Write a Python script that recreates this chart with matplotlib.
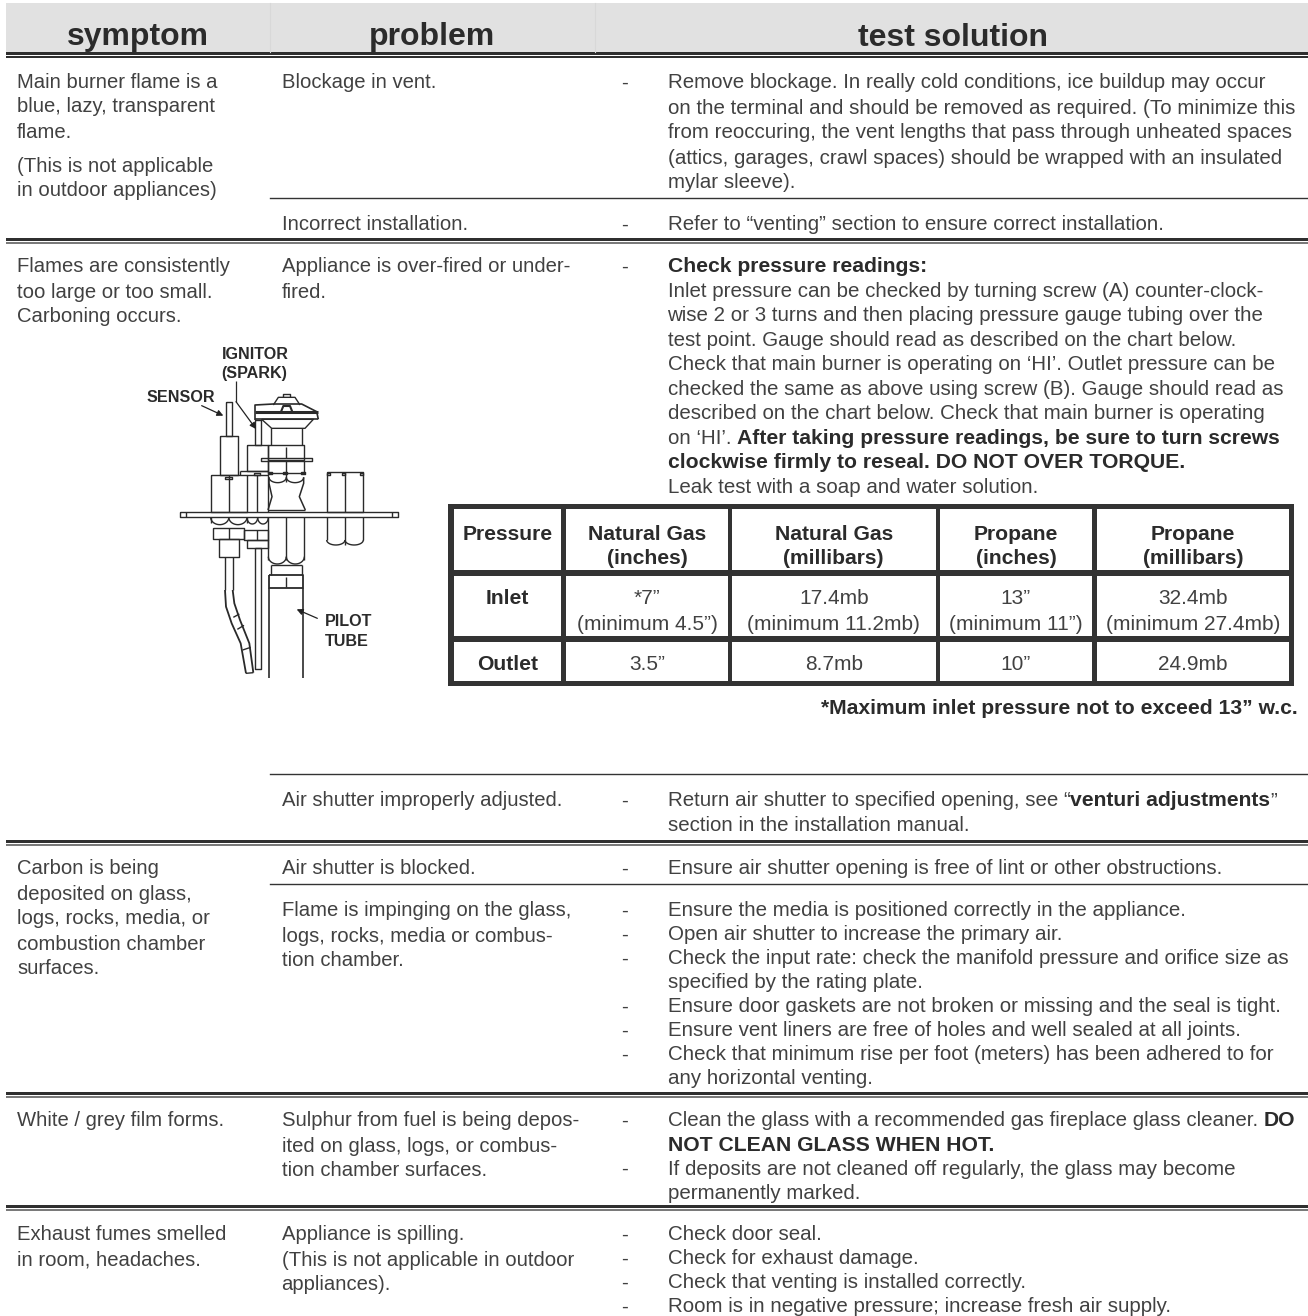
import matplotlib
matplotlib.use("Agg")
import matplotlib.pyplot as plt
import numpy as np
from matplotlib.patches import Rectangle

plt.rcParams['font.family'] = ['Liberation Sans', 'DejaVu Sans']

W, H = 1308, 1316
TXT = "#414141"
DARK = "#2b2b2b"
FS = 14.6
FS_SOL = 14.75
FS_BOLD = 15.2
FS_CELL = 15

headers = ["symptom", "problem", "test solution"]

symptoms = [
    ["Main burner flame is a", "blue, lazy, transparent", "flame."],
    ["(This is not applicable", "in outdoor appliances)"],
    ["Flames are consistently", "too large or too small.", "Carboning occurs."],
    ["Carbon is being", "deposited on glass,", "logs, rocks, media, or", "combustion chamber", "surfaces."],
    ["White / grey film forms."],
    ["Exhaust fumes smelled", "in room, headaches."],
]

problems = [
    ["Blockage in vent."],
    ["Incorrect installation."],
    ["Appliance is over-fired or under-", "fired."],
    ["Air shutter improperly adjusted."],
    ["Air shutter is blocked."],
    ["Flame is impinging on the glass,", "logs, rocks, media or combus-", "tion chamber."],
    ["Sulphur from fuel is being depos-", "ited on glass, logs, or combus-", "tion chamber surfaces."],
    ["Appliance is spilling.", "(This is not applicable in outdoor", "appliances)."],
]

# ** marks a bold run
sol_blockage = [
    "Remove blockage. In really cold conditions, ice buildup may occur",
    "on the terminal and should be removed as required. (To minimize this",
    "from reoccuring, the vent lengths that pass through unheated spaces",
    "(attics, garages, crawl spaces) should be wrapped with an insulated",
    "mylar sleeve).",
]
sol_install = ["Refer to “venting” section to ensure correct installation."]
sol_pressure = [
    "**Check pressure readings:",
    "Inlet pressure can be checked by turning screw (A) counter-clock-",
    "wise 2 or 3 turns and then placing pressure gauge tubing over the",
    "test point. Gauge should read as described on the chart below.",
    "Check that main burner is operating on ‘HI’. Outlet pressure can be",
    "checked the same as above using screw (B). Gauge should read as",
    "described on the chart below. Check that main burner is operating",
    "on ‘HI’. **After taking pressure readings, be sure to turn screws",
    "**clockwise firmly to reseal. DO NOT OVER TORQUE.",
    "Leak test with a soap and water solution.",
]
sol_shutter = [
    "Return air shutter to specified opening, see “**venturi adjustments**”",
    "section in the installation manual.",
]
sol_blocked = ["Ensure air shutter opening is free of lint or other obstructions."]
sol_flame = [
    "- Ensure the media is positioned correctly in the appliance.",
    "- Open air shutter to increase the primary air.",
    "- Check the input rate: check the manifold pressure and orifice size as",
    "specified by the rating plate.",
    "- Ensure door gaskets are not broken or missing and the seal is tight.",
    "- Ensure vent liners are free of holes and well sealed at all joints.",
    "- Check that minimum rise per foot (meters) has been adhered to for",
    "any horizontal venting.",
]
sol_film = [
    "- Clean the glass with a recommended gas fireplace glass cleaner. **DO",
    "**NOT CLEAN GLASS WHEN HOT.",
    "- If deposits are not cleaned off regularly, the glass may become",
    "permanently marked.",
]
sol_spill = [
    "- Check door seal.",
    "- Check for exhaust damage.",
    "- Check that venting is installed correctly.",
    "- Room is in negative pressure; increase fresh air supply.",
]

pressure_cols = [["Pressure"], ["Natural Gas", "(inches)"], ["Natural Gas", "(millibars)"],
                 ["Propane", "(inches)"], ["Propane", "(millibars)"]]
inlet_vals = [["*7”", "(minimum 4.5”)"], ["17.4mb", "(minimum 11.2mb)"],
              ["13”", "(minimum 11”)"], ["32.4mb", "(minimum 27.4mb)"]]
outlet_vals = ["3.5”", "8.7mb", "10”", "24.9mb"]
table_note = "*Maximum inlet pressure not to exceed 13” w.c."

fig = plt.figure(figsize=(W / 100, H / 100), dpi=100)
ax = fig.add_axes([0, 0, 1, 1])
ax.set_xlim(0, W)
ax.set_ylim(H, 0)
ax.axis("off")
rend = fig.canvas.get_renderer()

COL1, COL2, DASH, COL3 = 17, 281.5, 621, 667.5
PITCH = 25


def put_lines(x, y, lines, pitch=PITCH):
    for i, line in enumerate(lines):
        ax.text(x, y + i * pitch, line, fontsize=FS, color=TXT, va="center_baseline")


def rich_line(x, y, line):
    # split on ** and toggle the weight, each run goes after the one before
    bold = False
    for run in line.split("**"):
        if run:
            t = ax.text(x, y, run.rstrip(), fontsize=FS_BOLD if bold else FS_SOL,
                        color=DARK if bold else TXT,
                        weight="bold" if bold else "normal", va="center_baseline")
            x = t.get_window_extent(rend).x1
            if run.endswith(" "):
                x += 5.7
        bold = not bold


def put_solution(y, lines, pitch=24.2, dash=True):
    ypos = y
    for line in lines:
        if line.startswith("- "):
            line = line[2:]
            ax.text(DASH, ypos, "-", fontsize=FS, color=TXT, va="center_baseline")
        rich_line(COL3, ypos, line)
        ypos += pitch
    if dash:
        ax.text(DASH, y, "-", fontsize=FS, color=TXT, va="center_baseline")


def double_rule(y, thin_color="#7a7a7a"):
    ax.add_patch(Rectangle((6, y), W - 6, 3.2, color="#2f2f2f", lw=0))
    ax.add_patch(Rectangle((6, y + 4.4), W - 6, 1.6, color=thin_color, lw=0))


# header band
ax.add_patch(Rectangle((6, 3), W - 6, 49, color="#e1e1e1", lw=0))
for xd in [270, 595]:
    ax.plot([xd, xd], [3, 52], color="#d8d8d8", lw=0.8)
for name, xc in zip(headers, [138, 432, 953]):
    ax.text(xc, 34, name, fontsize=23, weight="bold", color=DARK, ha="center", va="center_baseline")
double_rule(52, thin_color="#2f2f2f")

# thin rules
for y0 in [198, 774, 884]:
    ax.plot([270, W], [y0, y0], color="#333333", lw=1.0)
for y0 in [237.5, 839.5, 1092, 1205]:
    double_rule(y0)

# symptom column
put_lines(COL1, 80, symptoms[0])
put_lines(COL1, 164, symptoms[1])
put_lines(COL1, 265, symptoms[2])
put_lines(COL1, 867, symptoms[3])
put_lines(COL1, 1119, symptoms[4])
put_lines(COL1, 1233, symptoms[5])

# problem column
for lines, y in zip(problems, [80, 223, 265, 799, 867, 909, 1119, 1233]):
    put_lines(COL2, y, lines)

# solution column
put_solution(81, sol_blockage, pitch=25)
put_solution(223, sol_install)
put_solution(265, sol_pressure, pitch=24.45)
put_solution(799, sol_shutter, pitch=24.5)
put_solution(867, sol_blocked)
put_solution(909, sol_flame, pitch=24, dash=False)
put_solution(1119, sol_film, pitch=24.3, dash=False)
put_solution(1233, sol_spill, pitch=24, dash=False)

# pressure table
tb_v = [(448, 454), (561, 566), (728, 732), (935.5, 940), (1092, 1097), (1289, 1294)]
tb_h = [(504, 509), (570, 576), (636, 642), (681, 686)]
for a, b in tb_v:
    ax.add_patch(Rectangle((a, 504), b - a, 182, color="#333333", lw=0))
for a, b in tb_h:
    ax.add_patch(Rectangle((448, a), 846, b - a, color="#333333", lw=0))
centers = [(a[1] + b[0]) / 2 for a, b in zip(tb_v[:-1], tb_v[1:])]
for xc, lines in zip(centers, pressure_cols):
    for i, s in enumerate(lines):
        ax.text(xc, 532 + 24 * i, s, fontsize=FS_BOLD, weight="bold", color=DARK, ha="center", va="center_baseline")
ax.text(centers[0], 597, "Inlet", fontsize=FS_BOLD, weight="bold", color=DARK, ha="center", va="center_baseline")
ax.text(centers[0], 663, "Outlet", fontsize=FS_BOLD, weight="bold", color=DARK, ha="center", va="center_baseline")
for xc, lines, out in zip(centers[1:], inlet_vals, outlet_vals):
    for i, s in enumerate(lines):
        ax.text(xc, 597 + 25 * i, s, fontsize=FS_CELL, color=TXT, ha="center", va="center_baseline")
    ax.text(xc, 663, out, fontsize=FS_CELL, color=TXT, ha="center", va="center_baseline")
ax.text(1298, 707, table_note, fontsize=FS_BOLD, weight="bold", color=DARK, ha="right", va="center_baseline")


def zx(v):
    return 120 + np.asarray(v, float) / 3


def zy(v):
    return 360 + np.asarray(v, float) / 3


def pl(xs, ys, lw=1.0, color="#2a2a2a"):
    ax.plot(zx(xs), zy(ys), color=color, lw=lw, solid_capstyle="butt")


def box(x0, y0, x1, y1, lw=1.0):
    pl([x0, x1, x1, x0, x0], [y0, y0, y1, y1, y0], lw=lw)


def scallop(x0, x1, y0, depth=14, n=2):
    # the curved lower edge of a hex nut
    step = (x1 - x0) / n
    for k in range(n):
        t = np.linspace(0, np.pi, 20)
        pl(x0 + k * step + step * (1 - np.cos(t)) / 2, y0 + depth * np.sin(t))


box(181, 455, 833, 472)
pl([199, 199], [455, 472])
pl([815, 815], [455, 472])
# sensor
box(317, 127, 336, 227)
box(299, 227, 354, 345)
box(272, 345, 381, 455)
pl([326, 326], [345, 455])
box(316, 350, 336, 358)
scallop(272, 381, 472, 22)
pl([272, 272], [472, 490])
pl([381, 381], [472, 490])
box(280, 505, 372, 537)
pl([326, 326], [505, 537])
box(296, 537, 358, 590)
pl([315, 315, 315], [590, 640, 690])
pl([338, 338], [590, 690])
pl([315, 318, 335, 362, 378], [690, 740, 790, 850, 940], lw=1.3)
pl([338, 343, 360, 388, 400], [690, 730, 780, 850, 938], lw=1.3)
pl([378, 400], [940, 938])
pl([340, 358], [772, 762])
pl([352, 372], [808, 796])
pl([368, 392], [870, 862])
# ignitor
box(404, 180, 422, 255)
box(380, 255, 445, 332)
pl([360, 445], [332, 332])
pl([360, 360], [332, 345])
pl([381, 445], [345, 345])
pl([412, 412], [345, 455])
pl([445, 445], [332, 455])
box(402, 338, 420, 346)
scallop(381, 445, 472, 20)
box(372, 510, 445, 540)
pl([410, 410], [510, 540])
box(380, 540, 445, 565)
box(404, 565, 422, 928)
# burner head
pl([405, 405, 460, 545, 590, 595], [180, 135, 132, 132, 155, 178], lw=1.2)
pl([405, 595], [155, 155], lw=2.2)
pl([405, 595], [178, 178], lw=1.2)
pl([425, 580, 555, 455, 425], [178, 178, 205, 205, 178])
pl([460, 475, 525, 540], [135, 112, 112, 135])
pl([490, 490, 510, 510], [112, 102, 102, 112])
pl([482, 490, 510, 518], [158, 138, 138, 158], lw=1.5)
pl([453, 453], [205, 255])
pl([545, 545], [205, 255])
box(445, 255, 553, 300)
pl([499, 499], [262, 295])
box(424, 294, 577, 302)
pl([445, 445, 553, 553], [302, 340, 340, 302])
pl([499, 499], [302, 365])
for xt in [446, 490, 544]:
    box(xt, 335, xt + 10, 343)
scallop(447, 551, 352, 16)
pl([447, 447, 456, 444], [352, 370, 410, 450], lw=1.1)
pl([551, 551, 538, 556], [352, 370, 410, 450], lw=1.1)
pl([444, 556], [450, 450])
pl([445, 445], [472, 600])
pl([553, 553], [472, 600])
pl([499, 499], [472, 600])
scallop(445, 553, 590, 22)
pl([453, 453], [615, 645])
pl([545, 545], [615, 645])
pl([453, 545], [615, 615])
box(448, 645, 550, 685, lw=1.3)
pl([499, 499], [650, 680])
pl([448, 448], [685, 955], lw=1.2)
pl([550, 550], [685, 955], lw=1.2)
# side block
box(620, 335, 730, 455)
pl([675, 675], [335, 455])
for xt in [620, 666, 720]:
    box(xt, 338, xt + 10, 346)
pl([620, 620], [472, 540])
pl([730, 730], [472, 540])
pl([675, 675], [472, 555])
scallop(620, 730, 540, 15)

# callouts
ax.annotate("", xy=(zx(310), zy(167)), xytext=(zx(245), zy(137)),
            arrowprops=dict(arrowstyle="-|>", color="#222222", lw=0.9, mutation_scale=9, shrinkA=0, shrinkB=0))
pl([348, 348], [62, 125], lw=0.9)
ax.annotate("", xy=(zx(408), zy(207)), xytext=(zx(348), zy(125)),
            arrowprops=dict(arrowstyle="-|>", color="#222222", lw=0.9, mutation_scale=9, shrinkA=0, shrinkB=0))
ax.annotate("", xy=(zx(530), zy(748)), xytext=(zx(592), zy(775)),
            arrowprops=dict(arrowstyle="-|>", color="#222222", lw=0.9, mutation_scale=9, shrinkA=0, shrinkB=0))
lab = dict(fontsize=11.6, weight="bold", color=DARK, va="center_baseline")
ax.text(255, 353, "IGNITOR", ha="center", **lab)
ax.text(254, 372, "(SPARK)", ha="center", **lab)
ax.text(181, 396, "SENSOR", ha="center", **lab)
ax.text(325, 620, "PILOT", ha="left", **lab)
ax.text(325, 640, "TUBE", ha="left", **lab)

fig.savefig("out.png", dpi=100)
